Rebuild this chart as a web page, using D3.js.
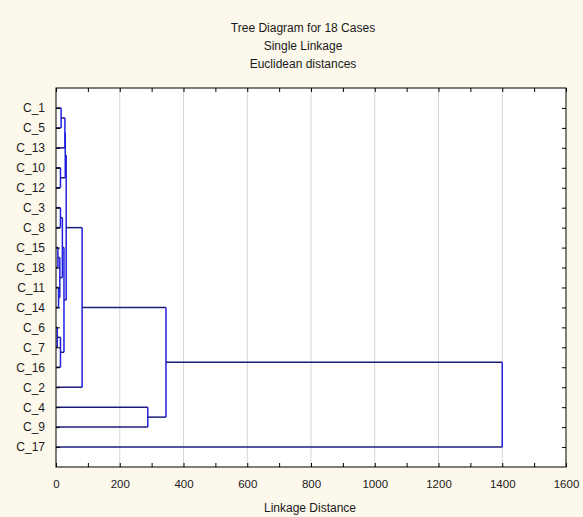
<!DOCTYPE html>
<html>
<head>
<meta charset="utf-8">
<script src="https://cdn.jsdelivr.net/npm/d3@7"></script>
<style>
	body { margin: 0; background: #fdf8ec; }
	text { font-family: "Liberation Sans", Arial, sans-serif; fill: #1a1a1a; }
</style>
</head>
<body>
<script>
// leaf order top to bottom
const leaves = ["C_1", "C_5", "C_13", "C_10", "C_12", "C_3", "C_8", "C_15", "C_18",
	"C_11", "C_14", "C_6", "C_7", "C_16", "C_2", "C_4", "C_9", "C_17"];

// merges: [left, right, linkage distance], node ids are "n" + index+1
const merges = [
	["C_1", "C_5", 16],
	["n1", "C_13", 28],
	["C_10", "C_12", 14],
	["n2", "n3", 29],
	["C_3", "C_8", 14],
	["C_15", "C_18", 6],
	["C_11", "C_14", 8],
	["n6", "n7", 12],
	["n5", "n8", 20],
	["C_6", "C_7", 4],
	["n10", "C_16", 14],
	["n9", "n11", 25],
	["n4", "n12", 32],
	["n13", "C_2", 82],
	["C_4", "C_9", 288],
	["n14", "n15", 345],
	["n16", "C_17", 1400]
];

const xTicks = [0, 200, 400, 600, 800, 1000, 1200, 1400, 1600];
const xMinorTicks = [100, 300, 500, 700, 900, 1100, 1300, 1500];
const gridTicks = [200, 400, 600, 800, 1000, 1200, 1400];

const titleLines = ["Tree Diagram for 18 Cases", "Single Linkage", "Euclidean distances"];
const xTitle = "Linkage Distance";

// sizes
let w = 583;
let h = 517;
let pLeft = 56, pRight = 566, pTop = 88, pBottom = 467;

const xScale = d3.scaleLinear().domain([0, 1600]).range([pLeft, pRight]);
const yScale = d3.scalePoint().domain(leaves).range([pTop, pBottom]).padding(1);

const svg = d3.select("body").append("svg").attr("width", w).attr("height", h);

// plot background
svg.append("rect")
	.attr("x", pLeft).attr("y", pTop)
	.attr("width", pRight - pLeft).attr("height", pBottom - pTop)
	.attr("fill", "#fff");

// grid lines
svg.selectAll(".grid")
	.data(gridTicks)
	.enter()
	.append("line")
	.attr("class", "grid")
	.attr("x1", (d) => xScale(d)).attr("x2", (d) => xScale(d))
	.attr("y1", pTop).attr("y2", pBottom)
	.attr("stroke", "#d6d6d6");

// title
svg.selectAll(".title")
	.data(titleLines)
	.enter()
	.append("text")
	.attr("class", "title")
	.attr("x", 303)
	.attr("y", (d, i) => 32 + i * 18)
	.attr("text-anchor", "middle")
	.style("font-size", "12px")
	.text((d) => d);

// dendrogram
const pos = {};
leaves.forEach((l) => (pos[l] = { x: 0, y: yScale(l) }));
const lines = [];
merges.forEach((m, i) => {
	const a = pos[m[0]], b = pos[m[1]], d = m[2];
	lines.push({ x1: a.x, y1: a.y, x2: d, y2: a.y, kind: "h" });
	lines.push({ x1: b.x, y1: b.y, x2: d, y2: b.y, kind: "h" });
	lines.push({ x1: d, y1: a.y, x2: d, y2: b.y, kind: "v" });
	pos["n" + (i + 1)] = { x: d, y: (a.y + b.y) / 2 };
});

svg.selectAll(".link")
	.data(lines)
	.enter()
	.append("line")
	.attr("class", "link")
	.attr("x1", (d) => xScale(d.x1)).attr("x2", (d) => xScale(d.x2))
	.attr("y1", (d) => d.y1).attr("y2", (d) => d.y2)
	.attr("stroke", (d) => (d.kind == "v" ? "#2020e0" : "#1c1c78"))
	.attr("stroke-width", 1.5);

// axes, ticks pointing inwards
svg.append("g")
	.attr("transform", "translate(0," + pBottom + ")")
	.call(d3.axisBottom(xScale).tickValues(xTicks).tickSize(-4).tickPadding(13).tickFormat((d) => d))
	.call((g) => g.selectAll("text").style("font-size", "11.5px").attr("fill", "#1a1a1a"));

svg.append("g")
	.attr("transform", "translate(0," + pBottom + ")")
	.call(d3.axisBottom(xScale).tickValues(xMinorTicks).tickSize(-4).tickFormat(""));

svg.append("g")
	.attr("transform", "translate(0," + pTop + ")")
	.call(d3.axisTop(xScale).tickValues(xTicks.concat(xMinorTicks)).tickSize(-4).tickFormat(""));

svg.append("g")
	.attr("transform", "translate(" + pLeft + ",0)")
	.call(d3.axisLeft(yScale).tickSize(-4).tickPadding(11))
	.call((g) => g.selectAll("text").style("font-size", "12px").attr("fill", "#1a1a1a"));

svg.append("g")
	.attr("transform", "translate(" + pRight + ",0)")
	.call(d3.axisRight(yScale).tickSize(-4).tickFormat(""));

svg.selectAll(".domain").remove();

// frame
svg.append("rect")
	.attr("x", pLeft).attr("y", pTop)
	.attr("width", pRight - pLeft).attr("height", pBottom - pTop)
	.attr("fill", "none")
	.attr("stroke", "#000");

svg.append("text")
	.attr("x", 310).attr("y", 512)
	.attr("text-anchor", "middle")
	.style("font-size", "12px")
	.text(xTitle);
</script>
</body>
</html>
